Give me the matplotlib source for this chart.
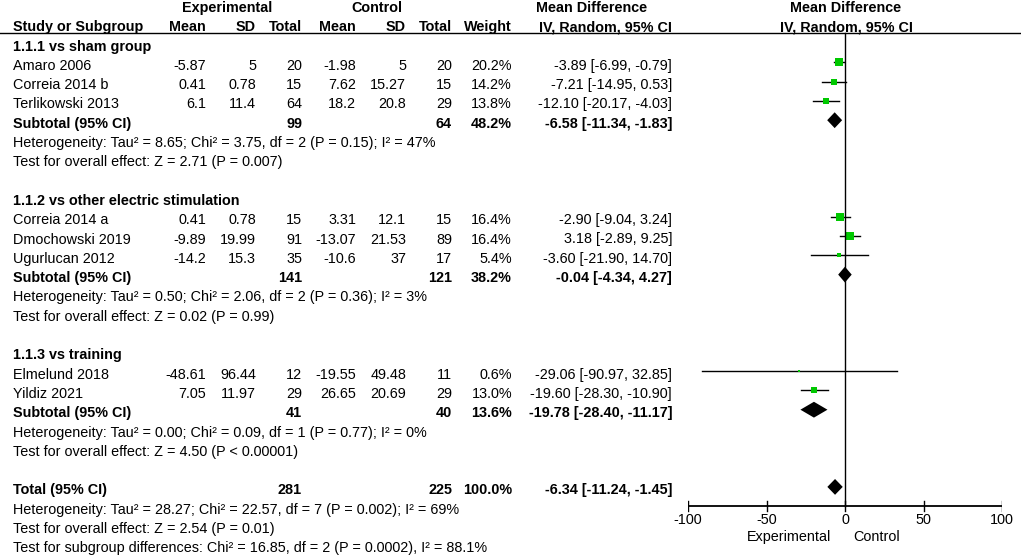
import matplotlib
matplotlib.use('Agg')
import matplotlib.pyplot as plt
import numpy as np

plt.rcParams['font.family'] = ['Liberation Sans', 'DejaVu Sans']

# study level data
studies = ['Amaro 2006', 'Correia 2014 b', 'Terlikowski 2013',
           'Correia 2014 a', 'Dmochowski 2019', 'Ugurlucan 2012',
           'Elmelund 2018', 'Yildiz 2021']
exp_mean = [-5.87, 0.41, 6.1, 0.41, -9.89, -14.2, -48.61, 7.05]
exp_sd = [5, 0.78, 11.4, 0.78, 19.99, 15.3, 96.44, 11.97]
exp_n = [20, 15, 64, 15, 91, 35, 12, 29]
ctl_mean = [-1.98, 7.62, 18.2, 3.31, -13.07, -10.6, -19.55, 26.65]
ctl_sd = [5, 15.27, 20.8, 12.1, 21.53, 37, 49.48, 20.69]
ctl_n = [20, 15, 29, 15, 89, 17, 11, 29]
weight = [20.2, 14.2, 13.8, 16.4, 16.4, 5.4, 0.6, 13.0]
md = [-3.89, -7.21, -12.10, -2.90, 3.18, -3.60, -29.06, -19.60]
md_lo = [-6.99, -14.95, -20.17, -9.04, -2.89, -21.90, -90.97, -28.30]
md_hi = [-0.79, 0.53, -4.03, 3.24, 9.25, 14.70, 32.85, -10.90]

# subgroups
groups = ['1.1.1 vs sham group', '1.1.2 vs other electric stimulation', '1.1.3 vs training']
group_size = [3, 3, 2]
sub_exp_n = [99, 141, 41]
sub_ctl_n = [64, 121, 40]
sub_weight = [48.2, 38.2, 13.6]
sub_md = [-6.58, -0.04, -19.78]
sub_lo = [-11.34, -4.34, -28.40]
sub_hi = [-1.83, 4.27, -11.17]
sub_het = ['Heterogeneity: Tau\u00b2 = 8.65; Chi\u00b2 = 3.75, df = 2 (P = 0.15); I\u00b2 = 47%',
           'Heterogeneity: Tau\u00b2 = 0.50; Chi\u00b2 = 2.06, df = 2 (P = 0.36); I\u00b2 = 3%',
           'Heterogeneity: Tau\u00b2 = 0.00; Chi\u00b2 = 0.09, df = 1 (P = 0.77); I\u00b2 = 0%']
sub_test = ['Test for overall effect: Z = 2.71 (P = 0.007)',
            'Test for overall effect: Z = 0.02 (P = 0.99)',
            'Test for overall effect: Z = 4.50 (P < 0.00001)']

# overall
tot_exp_n, tot_ctl_n, tot_weight = 281, 225, 100.0
tot_md, tot_lo, tot_hi = -6.34, -11.24, -1.45
tot_lines = ['Heterogeneity: Tau\u00b2 = 28.27; Chi\u00b2 = 22.57, df = 7 (P = 0.002); I\u00b2 = 69%',
             'Test for overall effect: Z = 2.54 (P = 0.01)',
             'Test for subgroup differences: Chi\u00b2 = 16.85, df = 2 (P = 0.0002), I\u00b2 = 88.1%']

ticks = [-100, -50, 0, 50, 100]

W, H = 1021, 556
fig = plt.figure(figsize=(W / 100, H / 100), dpi=100, facecolor='white')
ax = fig.add_axes([0, 0, 1, 1])
ax.set_xlim(0, W)
ax.set_ylim(H, 0)
ax.axis('off')

y0, dy = 43, 19.3   # pixel centre of row 0 marks and row pitch
toff = 3.5          # text sits a little lower than the marks
def ypx(r):
    return y0 + r * dy + toff

fs = 10.4
# column right edges (pixels)
x_study = 13
cols = [206, 256, 302, 356, 406, 452, 512]
x_ci = 672

def tx(x, r, s, ha='right', bold=False):
    ax.text(x, ypx(r), s, ha=ha, va='center', fontsize=fs,
            fontweight='bold' if bold else 'normal')

# header
tx(227, -1.97, 'Experimental', ha='center', bold=True)
tx(377, -1.97, 'Control', ha='center', bold=True)
tx(592, -1.97, 'Mean Difference', ha='center', bold=True)
tx(846, -1.97, 'Mean Difference', ha='center', bold=True)
tx(x_study, -1, 'Study or Subgroup', ha='left', bold=True)
for x, s in zip(cols, ['Mean', 'SD', 'Total', 'Mean', 'SD', 'Total', 'Weight']):
    tx(x, -1, s, bold=True)
tx(x_ci, -1, 'IV, Random, 95% CI', bold=True)
tx(846, -1, 'IV, Random, 95% CI', ha='center', bold=True)
ax.axhline(y0 - 0.52 * dy, color='black', lw=1.0)

# forest axes sharing the row coordinates
fx0, fx1 = 688, 1002
fax = fig.add_axes([fx0 / W, 0, (fx1 - fx0) / W, 1])
fax.set_xlim(-100, 100)
fax.set_ylim((H - y0) / dy, -y0 / dy)
fax.axis('off')

def diamond(r, m, lo, hi, h=0.41):
    fax.fill([lo, m, hi, m], [r, r - h, r, r + h], color='black', lw=0)

r = 0
k = 0
for g in range(len(groups)):
    tx(x_study, r, groups[g], ha='left', bold=True)
    r += 1
    for i in range(k, k + group_size[g]):
        tx(x_study, r, studies[i], ha='left')
        vals = [f'{exp_mean[i]:g}', f'{exp_sd[i]:g}', str(exp_n[i]),
                f'{ctl_mean[i]:g}', f'{ctl_sd[i]:g}', str(ctl_n[i]),
                f'{weight[i]:.1f}%']
        for x, s in zip(cols, vals):
            tx(x, r, s)
        tx(x_ci, r, f'{md[i]:.2f} [{md_lo[i]:.2f}, {md_hi[i]:.2f}]')
        fax.plot([md_lo[i], md_hi[i]], [r, r], color='black', lw=1.0)
        side = 1.75 * np.sqrt(weight[i]) / 1.389
        fax.plot(md[i], r, marker='s', ms=max(side, 1.5), color='#00c800', mec='#00c800', mew=0)
        r += 1
    k += group_size[g]
    tx(x_study, r, 'Subtotal (95% CI)', ha='left', bold=True)
    tx(cols[2], r, str(sub_exp_n[g]), bold=True)
    tx(cols[5], r, str(sub_ctl_n[g]), bold=True)
    tx(cols[6], r, f'{sub_weight[g]:.1f}%', bold=True)
    tx(x_ci, r, f'{sub_md[g]:.2f} [{sub_lo[g]:.2f}, {sub_hi[g]:.2f}]', bold=True)
    diamond(r, sub_md[g], sub_lo[g], sub_hi[g])
    r += 1
    tx(x_study, r, sub_het[g], ha='left')
    r += 1
    tx(x_study, r, sub_test[g], ha='left')
    r += 2

tx(x_study, r, 'Total (95% CI)', ha='left', bold=True)
tx(cols[2], r, str(tot_exp_n), bold=True)
tx(cols[5], r, str(tot_ctl_n), bold=True)
tx(cols[6], r, f'{tot_weight:.1f}%', bold=True)
tx(x_ci, r, f'{tot_md:.2f} [{tot_lo:.2f}, {tot_hi:.2f}]', bold=True)
diamond(r, tot_md, tot_lo, tot_hi)
r_axis = r + 1
for j, s in enumerate(tot_lines):
    tx(x_study, r + 1 + j, s, ha='left')

# zero line and x axis
fax.plot([0, 0], [-0.52, r_axis], color='black', lw=1.0)
fax.plot([-101.5, 101.5], [r_axis, r_axis], color='black', lw=1.3)
for t in ticks:
    fax.plot([t, t], [r_axis - 0.27, r_axis + 0.27], color='black', lw=1.0)
    fax.text(t, r_axis + 0.7, f'{t}', ha='center', va='center', fontsize=fs)
fax.text(-9, r_axis + 1.62, 'Experimental', ha='right', va='center', fontsize=fs)
fax.text(5, r_axis + 1.62, 'Control', ha='left', va='center', fontsize=fs)

fig.savefig('out.png', dpi=100, facecolor='white')
